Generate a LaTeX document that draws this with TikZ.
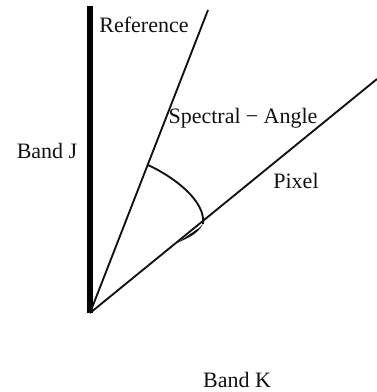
\documentclass[tikz,border=0pt]{standalone}
\usepackage{fontspec}
\setmainfont{Liberation Serif}
\usepackage{tikz}
\usetikzlibrary{positioning,calc}
\definecolor{InkDark}{HTML}{111111}

\begin{document}
\begin{tikzpicture}[x=0.75pt, y=-0.75pt,
    lbl/.style={anchor=base, text=InkDark, inner sep=0pt,
      font=\fontsize{16.5}{18}\selectfont},
    ray/.style={draw=InkDark, line width=1.4pt},
    bandaxis/.style={draw=black, line width=4pt}]
  \useasboundingbox (0,0) rectangle (377,392);
  % origin and ray ends
  \coordinate (O) at (90,313);
  \coordinate (jtop) at (90,6);
  \coordinate (refend) at (208,10);
  \coordinate (pixend) at (377,79);
  \coordinate (arcA) at (148,165);
  \coordinate (arcB) at (203,224);
  % axes and rays
  \draw[bandaxis] (O) -- (jtop);
  \draw[ray] (O) -- (refend);
  \draw[ray] (O) -- (pixend);
  % angle arc with its tip
  \draw[ray] (arcA) .. controls (176,178) and (206,202) .. (arcB);
  \fill[InkDark] (arcB) .. controls (198,234) and (188,238) .. (177,243)
    -- (199,228) -- cycle;
  % labels
  \node[lbl] (reflbl) at (144,33) {Reference};
  \node[lbl] (anglelbl) at (243,123) {Spectral\kern4pt−\kern4pt Angle};
  \node[lbl] (pixlbl) at (296,188) {Pixel};
  \node[lbl] (jlbl) at (47,158) {Band J};
  \node[lbl] (klbl) at (237,387) {Band K};
\end{tikzpicture}
\end{document}
